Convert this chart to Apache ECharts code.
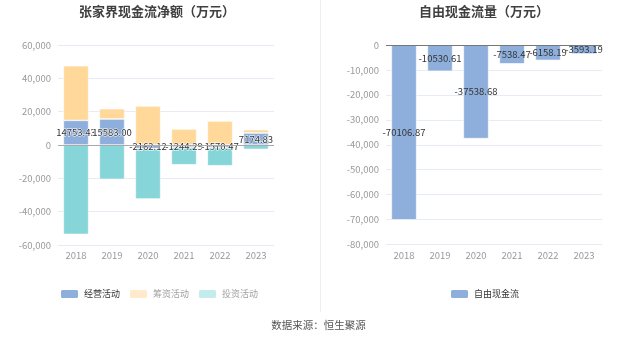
<!DOCTYPE html>
<html>
<head>
<meta charset="utf-8">
<script src="https://cdn.jsdelivr.net/npm/echarts@6/dist/echarts.min.js"></script>
<style>
html,body{margin:0;padding:0;background:#fff;}
#c{width:637px;height:344px;}
</style>
</head>
<body>
<div id="c"></div>
<script>
// ---- data ----
const years = ['2018', '2019', '2020', '2021', '2022', '2023'];
const operating = [14753.43, 15583.00, -2162.12, -1244.29, -1570.47, 7174.83];
const financing = [32800, 6200, 23400, 9600, 14400, 2000];
const investing = [-53600, -20600, -30200, -10600, -10850, -2600];
const freeCashFlow = [-70106.87, -10530.61, -37538.68, -7538.47, -6158.19, -3593.19];
const leftTicks = { min: -60000, max: 60000, interval: 20000 };
const rightTicks = { min: -80000, max: 0, interval: 10000 };

const FONT = '"Noto Sans CJK SC", "Noto Sans", sans-serif';
const C_OP = '#8eaedc', C_FIN = '#ffd89a', C_INV = '#86d5d8';

const chart = echarts.init(document.getElementById('c'), null, {renderer: 'canvas'});

const axisLabel = {color: '#999', fontSize: 9.5, fontFamily: FONT};
const splitLine = {show: true, lineStyle: {color: '#e6ebf5', width: 1}};

function zeroLine(color) {
  return {
    silent: true, symbol: 'none', label: {show: false},
    lineStyle: {color: color, type: 'solid', width: 1},
    data: [{yAxis: 0}]
  };
}

const option = {
  animation: false,
  textStyle: {fontFamily: FONT},
  title: [
    {text: '张家界现金流净额（万元）', left: 152, top: 0, textAlign: 'center',
     textStyle: {fontSize: 13, fontWeight: 'bold', color: '#404040', fontFamily: FONT}},
    {text: '自由现金流量（万元）', left: 479, top: 0, textAlign: 'center',
     textStyle: {fontSize: 13, fontWeight: 'bold', color: '#404040', fontFamily: FONT}}
  ],
  legend: [
    {
      left: 54, top: 283, itemWidth: 19, itemHeight: 10, itemGap: 8,
      icon: 'roundRect',
      textStyle: {fontSize: 9, color: '#333', fontFamily: FONT},
      data: [
        {name: '经营活动'},
        {name: '筹资活动', itemStyle: {color: '#ffeacb'}, textStyle: {color: '#a0a0a0'}},
        {name: '投资活动', itemStyle: {color: '#c3ecee'}, textStyle: {color: '#a0a0a0'}}
      ]
    },
    {
      left: 444, top: 283, itemWidth: 19, itemHeight: 10,
      icon: 'roundRect',
      textStyle: {fontSize: 9, color: '#333', fontFamily: FONT},
      data: ['自由现金流']
    }
  ],
  grid: [
    {left: 58, right: 363, top: 45, bottom: 99},
    {left: 386, right: 35, top: 45, bottom: 99.5}
  ],
  xAxis: [
    {type: 'category', gridIndex: 0, data: years,
     axisLine: {show: false}, axisTick: {show: false},
     axisLabel: Object.assign({margin: 6}, axisLabel)},
    {type: 'category', gridIndex: 1, data: years,
     axisLine: {show: false}, axisTick: {show: false},
     axisLabel: Object.assign({margin: 6}, axisLabel)}
  ],
  yAxis: [
    {type: 'value', gridIndex: 0, min: leftTicks.min, max: leftTicks.max, interval: leftTicks.interval,
     axisLine: {show: false}, axisTick: {show: false},
     axisLabel: Object.assign({margin: 7}, axisLabel), splitLine: splitLine},
    {type: 'value', gridIndex: 1, min: rightTicks.min, max: rightTicks.max, interval: rightTicks.interval,
     axisLine: {show: false}, axisTick: {show: false},
     axisLabel: Object.assign({margin: 7}, axisLabel), splitLine: splitLine}
  ],
  series: [
    {name: '经营活动', type: 'bar', stack: 'a', xAxisIndex: 0, yAxisIndex: 0, data: operating,
     barWidth: '70%',
     itemStyle: {color: C_OP, borderColor: '#fff', borderWidth: 0.6},
     label: {show: true, position: 'inside', color: '#333', fontSize: 9.5, fontFamily: FONT,
             textBorderColor: '#fff', textBorderWidth: 1,
             formatter: p => p.value.toFixed(2)},
     z: 3,
     markLine: zeroLine('#aaa')},
    {name: '筹资活动', type: 'bar', stack: 'a', xAxisIndex: 0, yAxisIndex: 0, data: financing,
     barWidth: '70%',
     itemStyle: {color: C_FIN, borderColor: '#fff', borderWidth: 0.6}},
    {name: '投资活动', type: 'bar', stack: 'a', xAxisIndex: 0, yAxisIndex: 0, data: investing,
     barWidth: '70%',
     itemStyle: {color: C_INV, borderColor: '#fff', borderWidth: 0.6}},
    {name: '自由现金流', type: 'bar', xAxisIndex: 1, yAxisIndex: 1, data: freeCashFlow,
     barWidth: '70%',
     itemStyle: {color: C_OP, borderColor: '#fff', borderWidth: 0.6},
     label: {show: true, position: 'inside', color: '#333', fontSize: 9.5, fontFamily: FONT,
             formatter: p => p.value.toFixed(2)},
     markLine: zeroLine('#777')}
  ],
  graphic: [
    {type: 'line', shape: {x1: 320.5, y1: 0, x2: 320.5, y2: 312},
     style: {stroke: '#eeeeee', lineWidth: 1}, silent: true},
    {type: 'text', left: 'center', top: 320,
     style: {text: '数据来源：恒生聚源', fill: '#555', fontSize: 10.5, fontFamily: FONT}}
  ]
};
chart.setOption(option);
</script>
</body>
</html>
